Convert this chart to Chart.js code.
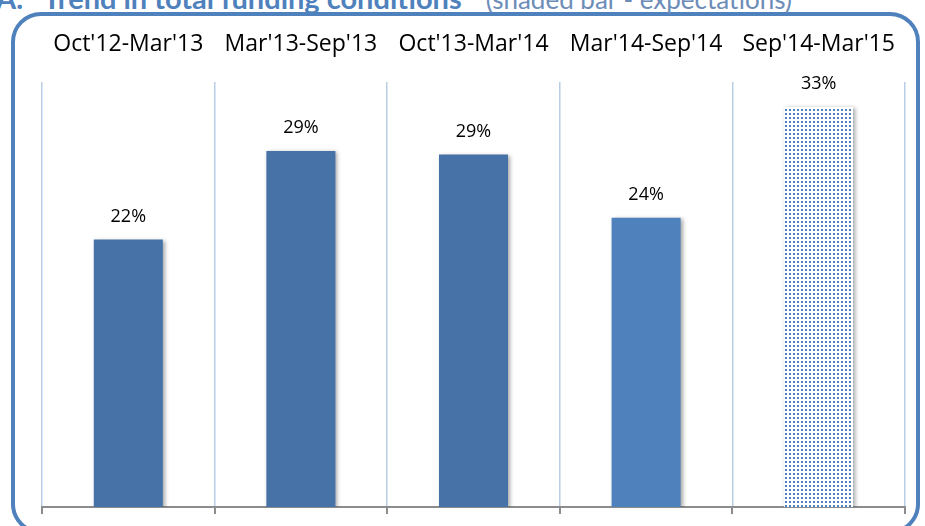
<!DOCTYPE html>
<html>
<head>
<meta charset="utf-8">
<script src="https://cdn.jsdelivr.net/npm/chart.js@4/dist/chart.umd.min.js"></script>
<style>
  body { margin: 0; background: #fff; overflow: hidden; }
  #wrap { position: relative; width: 925px; height: 526px; }
  #title { position: absolute; left: -4px; top: -16px; line-height: 28px; font-family: Lato, sans-serif; font-size: 28px; white-space: nowrap; }
  #title b { color: #4F81BD; font-size: 29px; }
  #title span { color: #6D8DB8; margin-left: 24px; font-size: 26px; }
  #frame { position: absolute; left: 11px; top: 12px; width: 909px; height: 522px; border: 4px solid #4F81BD; border-radius: 30px; box-sizing: border-box; }
  canvas { position: absolute; left: 0; top: 0; }
</style>
</head>
<body>
<div id="wrap">
  <div id="frame"></div>
  <div id="title"><b>A.&nbsp;&nbsp;&nbsp;Trend in total funding conditions</b><span>(shaded bar - expectations)</span></div>
  <canvas id="c" width="925" height="526"></canvas>
</div>
<script>
// periods and % of firms (last one = expectations)
var periods = ["Oct'12-Mar'13", "Mar'13-Sep'13", "Oct'13-Mar'14", "Mar'14-Sep'14", "Sep'14-Mar'15"];
var values = [22.0, 29.3, 29.0, 23.8, 32.9];
var valueLabels = ['22%', '29%', '29%', '24%', '33%'];

// dotted fill for the expectations bar
function dots() {
  var p = document.createElement('canvas');
  p.width = 4; p.height = 4;
  var g = p.getContext('2d');
  g.fillStyle = '#fff';
  g.fillRect(0, 0, 4, 4);
  g.fillStyle = '#4F81BD';
  g.fillRect(1, 1, 2, 2);
  return g.createPattern(p, 'repeat');
}
var ctx0 = document.getElementById('c').getContext('2d');
var barColors = ['#4672A8', '#4672A8', '#4672A8', '#4F81BD', dots()];

var shadowPlugin = {
  id: 'barShadow',
  beforeDatasetDraw: function(chart) {
    var c = chart.ctx;
    c.save();
    c.shadowColor = 'rgba(0,0,0,0.35)';
    c.shadowBlur = 4;
    c.shadowOffsetX = 2;
    c.shadowOffsetY = 1;
  },
  afterDatasetDraw: function(chart) {
    chart.ctx.restore();
  }
};

var labelPlugin = {
  id: 'valLabels',
  afterDatasetsDraw: function(chart) {
    var c = chart.ctx;
    var meta = chart.getDatasetMeta(0);
    c.save();
    c.font = '18px "Open Sans", sans-serif';
    c.fillStyle = '#000';
    c.textAlign = 'center';
    c.textBaseline = 'middle';
    meta.data.forEach(function(bar, i) {
      c.fillText(valueLabels[i], bar.x, bar.y - 23);
    });
    c.restore();
  }
};

new Chart(ctx0, {
  type: 'bar',
  data: {
    labels: periods,
    datasets: [{
      data: values,
      backgroundColor: barColors,
      borderWidth: 0,
      barPercentage: 1,
      categoryPercentage: 0.4,
      xAxisID: 'x'
    }]
  },
  options: {
    responsive: false,
    animation: false,
    layout: { padding: { left: 42, right: 20, top: 8, bottom: 12 } },
    plugins: { legend: { display: false }, tooltip: { enabled: false } },
    scales: {
      x: {
        position: 'top',
        grid: { offset: true, color: '#B9CDE5', lineWidth: 1.5, drawTicks: false },
        border: { display: false },
        ticks: { color: '#000', font: { family: 'Open Sans', size: 23 }, padding: 23, maxRotation: 0 }
      },
      x2: {
        type: 'category',
        labels: periods,
        position: 'bottom',
        grid: { offset: true, drawOnChartArea: false, drawTicks: true, tickLength: 7, color: '#8C8C8C', lineWidth: 2 },
        border: { display: true, color: '#8C8C8C', width: 2 },
        ticks: { display: false }
      },
      y: {
        display: false,
        min: 0,
        max: 35
      }
    }
  },
  plugins: [shadowPlugin, labelPlugin]
});
</script>
</body>
</html>
